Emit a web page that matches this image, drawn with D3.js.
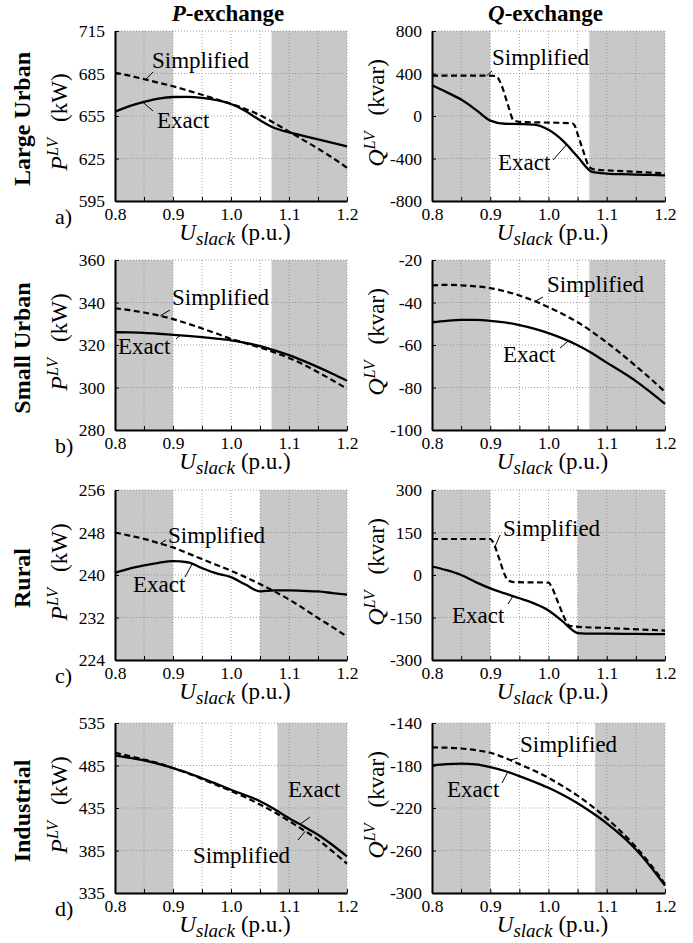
<!DOCTYPE html>
<html>
<head>
<meta charset="utf-8">
<script src="https://cdn.jsdelivr.net/npm/d3@7/dist/d3.min.js"></script>
<style>
  body { margin: 0; background: #fff; }
</style>
</head>
<body>
<div id="fig"></div>
<script>
// --- donnees ---
const uGrid = [0.8, 0.825, 0.85, 0.875, 0.9, 0.925, 0.95, 0.975, 1.0, 1.025, 1.05, 1.075, 1.1, 1.125, 1.15, 1.175, 1.2];
const uTicks = [0.8, 0.85, 0.9, 0.95, 1.0, 1.05, 1.1, 1.15, 1.2];

// a) Large Urban
const aTicksP = [595, 625, 655, 685, 715];
const aP_exact = [658, 662, 665, 667.3, 668.4, 668.5, 667.8, 666.2, 663.5, 658.5, 652, 646.5, 643.5, 641, 638.5, 636, 633.5];
const aP_simpl = [685.5, 683.5, 681, 678.5, 676, 673, 670, 666.8, 663.5, 660, 655.5, 650, 644, 638, 632, 625.5, 618.5];
const aTicksQ = [-800, -400, 0, 400, 800];
const aQ_exact = [290, 225, 155, 60, -44, -73, -76, -82, -130, -234, -383, -526, -542, -548, -551, -555, -558];
const aQ_simpl_u = [0.8, 0.85, 0.9, 0.91, 0.92, 0.93, 0.94, 0.95, 1.0, 1.04, 1.045, 1.05, 1.06, 1.07, 1.08, 1.1, 1.15, 1.2];
const aQ_simpl = [380, 380, 380, 375, 280, 110, -40, -55, -62, -68, -90, -170, -335, -480, -505, -512, -525, -540];

// b) Small Urban
const bTicksP = [280, 300, 320, 340, 360];
const bP_exact = [326, 325.9, 325.7, 325.3, 324.8, 324.3, 323.7, 323, 322.2, 321, 319.5, 317.5, 315.2, 312.5, 309.6, 306.5, 303.2];
const bP_simpl = [337.3, 336.4, 335.3, 333.9, 332.2, 330.1, 327.8, 325.4, 322.9, 320.8, 318.8, 316.5, 313.9, 310.8, 307.2, 303.4, 299.4];
const bTicksQ = [-100, -80, -60, -40, -20];
const bQ_exact = [-49.3, -48.6, -48.2, -48.2, -48.6, -49.4, -50.6, -52.3, -54.4, -57, -60.1, -63.9, -68.3, -72.5, -77, -82.2, -87.7];
const bQ_simpl = [-31.9, -31.7, -31.9, -32.4, -33.2, -34.7, -36.7, -39.2, -42.2, -45.5, -49.3, -53.8, -58.8, -64.2, -69.9, -75.8, -82.1];

// c) Rural
const cTicksP = [224, 232, 240, 248, 256];
const cP_exact_u = [0.8, 0.825, 0.85, 0.875, 0.9, 0.925, 0.95, 0.975, 1.0, 1.025, 1.05, 1.06, 1.075, 1.1, 1.125, 1.15, 1.175, 1.2];
const cP_exact = [240.4, 241.2, 241.8, 242.3, 242.6, 242.4, 241.3, 240.3, 239.6, 238.2, 236.9, 237.0, 237.1, 237.1, 237.0, 236.9, 236.6, 236.3];
const cP_simpl = [248, 247.4, 246.8, 246, 245.2, 244.1, 243, 241.9, 240.8, 239.6, 238.3, 236.9, 235.4, 233.7, 231.9, 230.2, 228.4];
const cTicksQ = [-300, -150, 0, 150, 300];
const cQ_exact_u = [0.8, 0.825, 0.85, 0.875, 0.9, 0.925, 0.95, 0.975, 1.0, 1.025, 1.04, 1.05, 1.075, 1.1, 1.15, 1.2];
const cQ_exact = [30, 17, 0, -25, -47, -65, -82, -100, -125, -165, -193, -205, -207, -207, -208, -209];
const cQ_simpl_u = [0.8, 0.9, 0.905, 0.915, 0.925, 0.93, 0.94, 1.0, 1.005, 1.015, 1.025, 1.035, 1.045, 1.1, 1.2];
const cQ_simpl = [127, 127, 115, 60, 0, -18, -25, -27, -40, -90, -140, -178, -182, -187, -196];

// d) Industrial
const dTicksP = [335, 385, 435, 485, 535];
const dP_exact = [497, 494, 491, 487, 482, 476.5, 470, 463.5, 456.5, 450, 443, 433.5, 423, 413.5, 403.6, 391.5, 378];
const dP_simpl = [500, 496, 492, 487.5, 482, 476, 469, 462, 455, 447.5, 439, 430, 419.7, 409, 397.7, 384, 369.5];
const dTicksQ = [-300, -260, -220, -180, -140];
const dQ_exact = [-180, -178.8, -178.3, -179, -181.5, -185.2, -190, -195.3, -201, -207.8, -215.5, -224.5, -234.4, -245.8, -259, -275, -293];
const dQ_simpl = [-163, -163.2, -164, -165.6, -168, -172.8, -178.7, -184.8, -191.6, -199.6, -208.4, -218.5, -229.7, -242.5, -256.6, -273, -291.5];

// zones grisees (limite haute de la tension)
const shadeHigh = [1.07, 1.07, 1.05, 1.08];
const rowNames = ["Large Urban", "Small Urban", "Rural", "Industrial"];
const rowLetters = ["a)", "b)", "c)", "d)"];

// --- mise en page ---
const W = 693, H = 943;
const colX = [115, 432], colW = [232, 233];
const rowY = [31, 260, 490, 723], rowH = 170;
const serif = '"Liberation Serif"';

const svg = d3.select("#fig")
  .append("svg")
  .attr("width", W)
  .attr("height", H);

// petit utilitaire pour les textes en serif
function txt(sel, size) {
  return sel.append("text")
    .style("font-family", serif)
    .style("font-size", size + "px")
    .attr("fill", "#000");
}

const panels = [
  {row: 0, col: 0, ticks: aTicksP, exact: [uGrid, aP_exact], simpl: [uGrid, aP_simpl], yOff: 6,
   notes: [{t: "Simplified", s: "simpl", u: 0.853, tx: 37, ty: 37, ex: 38, ey: 41},
           {t: "Exact", s: "exact", u: 0.848, tx: 42, ty: 97, ex: 38, ey: 80}]},
  {row: 0, col: 1, ticks: aTicksQ, exact: [uGrid, aQ_exact], simpl: [aQ_simpl_u, aQ_simpl], yOff: -3,
   notes: [{t: "Simplified", s: "simpl", u: 0.894, tx: 60, ty: 34, ex: 60, ey: 40},
           {t: "Exact", s: "exact", u: 1.031, tx: 66, ty: 139, ex: 121, ey: 129}]},
  {row: 1, col: 0, ticks: bTicksP, exact: [uGrid, bP_exact], simpl: [uGrid, bP_simpl], yOff: -3,
   notes: [{t: "Simplified", s: "simpl", u: 0.878, tx: 57, ty: 45, ex: 55, ey: 50},
           {t: "Exact", s: "exact", u: 0.912, tx: 3, ty: 94, ex: 61, ey: 79}]},
  {row: 1, col: 1, ticks: bTicksQ, exact: [uGrid, bQ_exact], simpl: [uGrid, bQ_simpl], yOff: -3,
   notes: [{t: "Simplified", s: "simpl", u: 0.977, tx: 115, ty: 32, ex: 111, ey: 37},
           {t: "Exact", s: "exact", u: 1.034, tx: 71, ty: 102, ex: 128, ey: 88}]},
  {row: 2, col: 0, ticks: cTicksP, exact: [cP_exact_u, cP_exact], simpl: [uGrid, cP_simpl], yOff: -3,
   notes: [{t: "Simplified", s: "simpl", u: 0.878, tx: 53, ty: 53, ex: 51, ey: 50},
           {t: "Exact", s: "exact", u: 0.933, tx: 18, ty: 102, ex: 70, ey: 87}]},
  {row: 2, col: 1, ticks: cTicksQ, exact: [cQ_exact_u, cQ_exact], simpl: [cQ_simpl_u, cQ_simpl], yOff: -3,
   notes: [{t: "Simplified", s: "simpl", u: 0.908, tx: 71, ty: 46, ex: 68, ey: 45},
           {t: "Exact", s: "exact", u: 0.939, tx: 20, ty: 133, ex: 76, ey: 114}]},
  {row: 3, col: 0, ticks: dTicksP, exact: [uGrid, dP_exact], simpl: [uGrid, dP_simpl], yOff: -3,
   notes: [{t: "Exact", s: "exact", u: 1.119, tx: 173, ty: 74, ex: 195, ey: 94},
           {t: "Simplified", s: "simpl", u: 1.128, tx: 78, ty: 140, ex: 183, ey: 117}]},
  {row: 3, col: 1, ticks: dTicksQ, exact: [uGrid, dQ_exact], simpl: [uGrid, dQ_simpl], yOff: -3,
   notes: [{t: "Simplified", s: "simpl", u: 0.934, tx: 88, ty: 29, ex: 86, ey: 35},
           {t: "Exact", s: "exact", u: 0.93, tx: 15, ty: 74, ex: 70, ey: 60}]}
];

// titres des colonnes
const titles = [["P", "-exchange"], ["Q", "-exchange"]];
titles.forEach((t, i) => {
  const tt = txt(svg, 23)
    .attr("x", colX[i] + colW[i] / 2 - 3)
    .attr("y", 21)
    .attr("text-anchor", "middle")
    .style("font-weight", "bold");
  tt.append("tspan").style("font-style", "italic").text(t[0]);
  tt.append("tspan").text(t[1]);
});

// noms des lignes + lettres
rowNames.forEach((name, r) => {
  txt(svg, 24)
    .attr("transform", `translate(30,${rowY[r] + rowH / 2 + 3}) rotate(-90)`)
    .attr("text-anchor", "middle")
    .style("font-weight", "bold")
    .text(name);
  txt(svg, 22)
    .attr("x", 55)
    .attr("y", rowY[r] + rowH + 23)
    .text(rowLetters[r]);
});

// dessiner chaque panneau
panels.forEach(p => {
  const x0 = colX[p.col], y0 = rowY[p.row], w = colW[p.col];
  const x = d3.scaleLinear().domain([0.8, 1.2]).range([x0, x0 + w]);
  const y = d3.scaleLinear().domain(d3.extent(p.ticks)).range([y0 + rowH, y0]);
  const g = svg.append("g");

  // zones grisees
  [[0.8, 0.9], [shadeHigh[p.row], 1.2]].forEach(s => {
    g.append("rect")
      .attr("x", x(s[0]))
      .attr("y", y0)
      .attr("width", x(s[1]) - x(s[0]))
      .attr("height", rowH)
      .attr("fill", "#c8c8c8");
  });

  // grille pointillee
  g.selectAll(".vgrid").data(uTicks).join("line")
    .attr("x1", d => x(d)).attr("x2", d => x(d))
    .attr("y1", y0).attr("y2", y0 + rowH)
    .attr("stroke", "#8a8a8a").attr("stroke-width", 0.8)
    .attr("stroke-dasharray", "1,2");
  g.selectAll(".hgrid").data(p.ticks).join("line")
    .attr("x1", x0).attr("x2", x0 + w)
    .attr("y1", d => y(d)).attr("y2", d => y(d))
    .attr("stroke", "#8a8a8a").attr("stroke-width", 0.8)
    .attr("stroke-dasharray", "1,2");

  // axes
  const xAxis = g.append("g")
    .attr("transform", `translate(0,${y0 + rowH})`)
    .call(d3.axisBottom(x)
      .tickValues(uTicks)
      .tickSizeInner(-4).tickSizeOuter(0).tickPadding(7)
      .tickFormat(d => Math.round(d * 100) % 10 === 0 ? d3.format(".1f")(d) : ""));
  const yAxis = g.append("g")
    .attr("transform", `translate(${x0},0)`)
    .call(d3.axisLeft(y)
      .tickValues(p.ticks)
      .tickSizeInner(-4).tickSizeOuter(0).tickPadding(10)
      .tickFormat(d => String(d)));
  [xAxis, yAxis].forEach(a => {
    a.attr("font-family", serif).attr("font-size", 17.5);
    a.select(".domain").attr("stroke", "#000").attr("stroke-width", 2);
    a.selectAll(".tick line").attr("stroke", "#000").attr("stroke-width", 1);
    a.selectAll(".tick text")
      .style("font-family", serif)
      .style("font-size", "17.5px")
      .attr("fill", "#000");
  });

  // courbes
  const line = d3.line()
    .x(d => x(d[0]))
    .y(d => y(d[1]))
    .curve(d3.curveMonotoneX);
  const series = {exact: p.exact, simpl: p.simpl};
  g.append("path")
    .attr("d", line(d3.zip(p.simpl[0], p.simpl[1])))
    .attr("fill", "none").attr("stroke", "#000").attr("stroke-width", 2.2)
    .attr("stroke-dasharray", "6,3.5");
  g.append("path")
    .attr("d", line(d3.zip(p.exact[0], p.exact[1])))
    .attr("fill", "none").attr("stroke", "#000").attr("stroke-width", 2.3);

  // etiquettes Exact / Simplified
  p.notes.forEach(n => {
    const s = series[n.s];
    const v = d3.scaleLinear().domain(s[0]).range(s[1])(n.u);
    g.append("line")
      .attr("x1", x(n.u)).attr("y1", y(v))
      .attr("x2", x0 + n.ex).attr("y2", y0 + n.ey)
      .attr("stroke", "#000").attr("stroke-width", 1);
    txt(g, 23)
      .attr("x", x0 + n.tx).attr("y", y0 + n.ty)
      .text(n.t);
  });

  // titre axe y
  const yl = txt(svg, 23)
    .attr("transform", `translate(${x0 - 48},${y0 + rowH / 2 + p.yOff}) rotate(-90)`)
    .attr("text-anchor", "middle");
  yl.append("tspan").style("font-style", "italic").style("font-size", "24px").text(p.col === 0 ? "P" : "Q");
  yl.append("tspan").style("font-style", "italic").style("font-size", "16px").attr("dy", -9).text("LV");
  yl.append("tspan").attr("dy", 9).attr("dx", 16).text(p.col === 0 ? "(kW)" : "(kvar)");

  // titre axe x
  const xl = txt(svg, 23)
    .attr("x", x0 + w / 2 + 4)
    .attr("y", y0 + rowH + 39)
    .attr("text-anchor", "middle");
  xl.append("tspan").style("font-style", "italic").text("U");
  xl.append("tspan").style("font-style", "italic").style("font-size", "19px").attr("dy", 5).text("slack");
  xl.append("tspan").attr("dy", -5).attr("dx", 6).text("(p.u.)");
});
</script>
</body>
</html>
